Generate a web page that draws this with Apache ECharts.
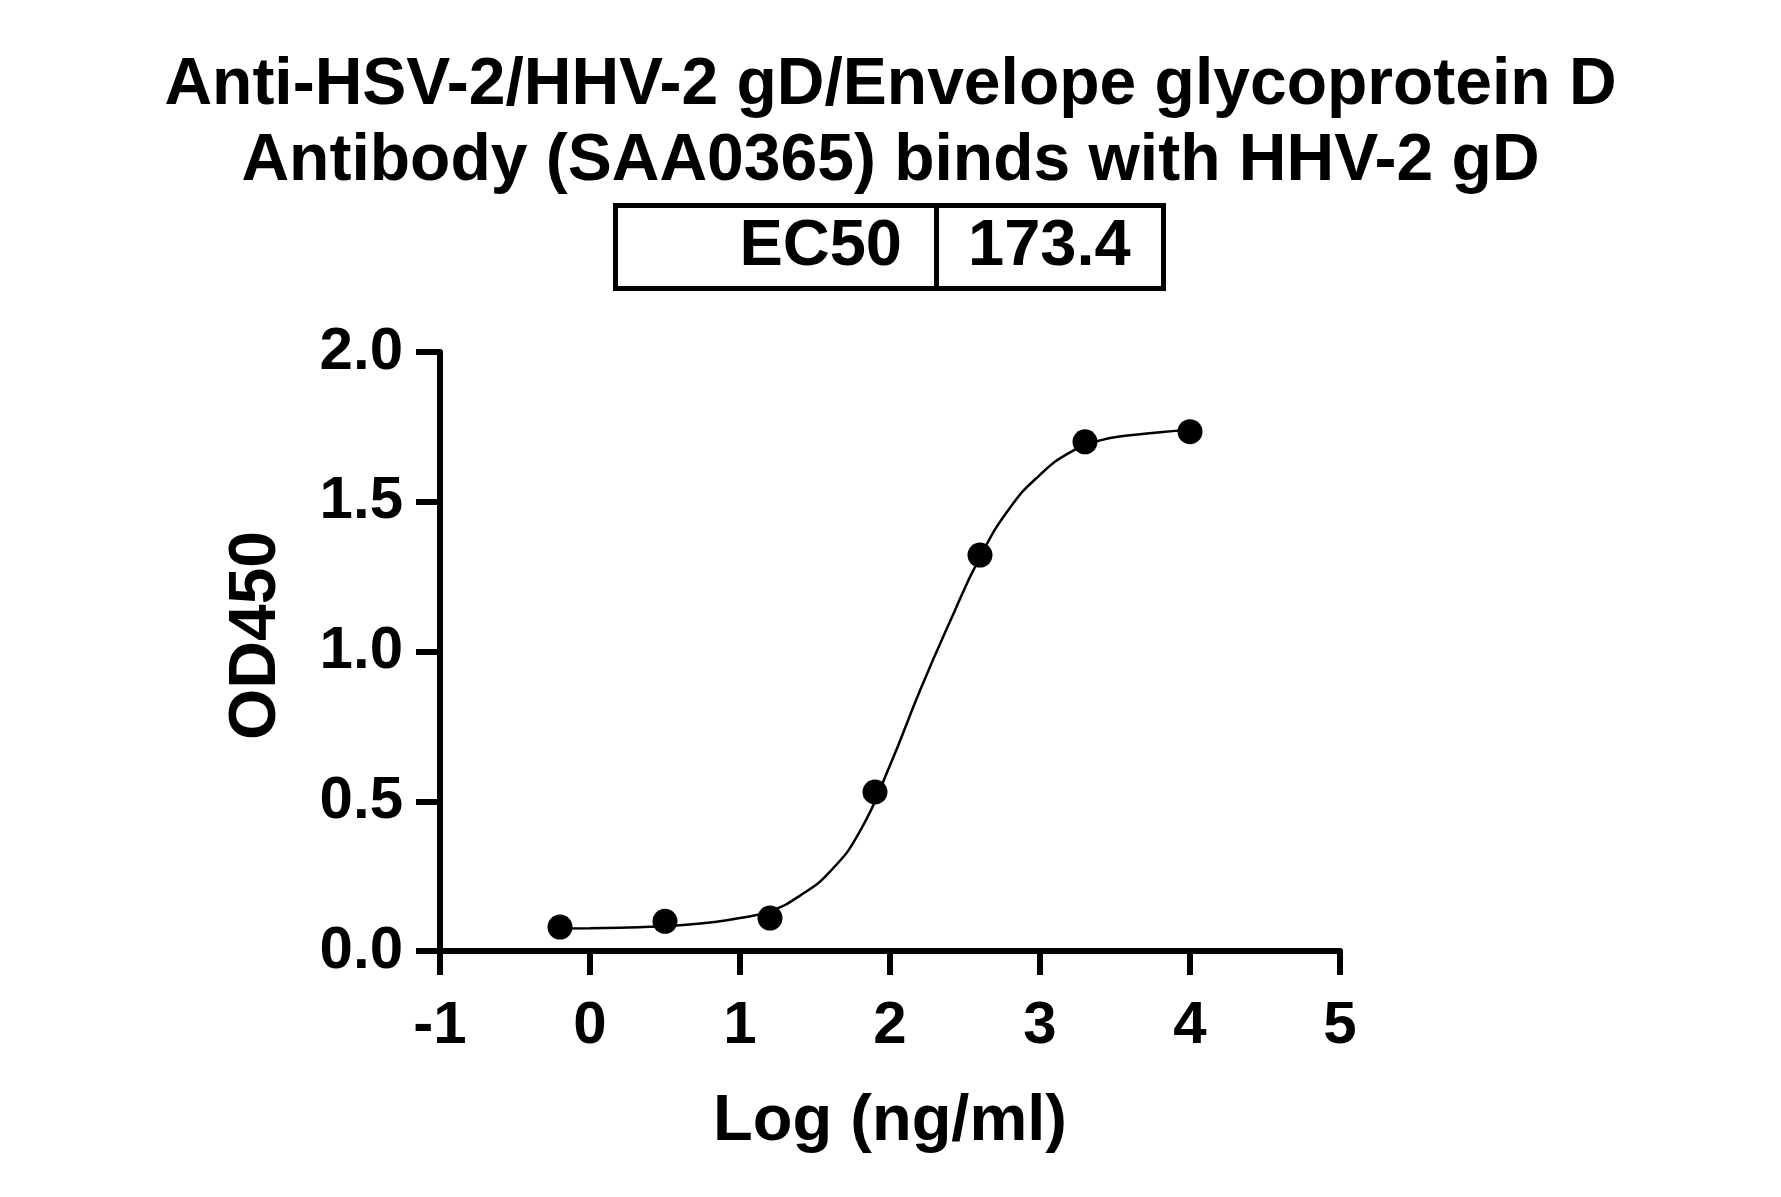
<!DOCTYPE html>
<html>
<head>
<meta charset="utf-8">
<script src="https://cdn.jsdelivr.net/npm/echarts@6/dist/echarts.min.js"></script>
<style>
html,body{margin:0;padding:0;background:#fff;}
#chart{width:1781px;height:1197px;}
</style>
</head>
<body>
<div id="chart"></div>
<script>
// Data
var titleLines = ['Anti-HSV-2/HHV-2 gD/Envelope glycoprotein D', 'Antibody (SAA0365) binds with HHV-2 gD'];
var ec50Label = 'EC50';
var ec50Value = '173.4';
var xAxisName = 'Log (ng/ml)';
var yAxisName = 'OD450';
var xTicks = [-1, 0, 1, 2, 3, 4, 5];
var yTicks = [0.0, 0.5, 1.0, 1.5, 2.0];

// Measured points
var pointX = [-0.2, 0.5, 1.2, 1.9, 2.6, 3.3, 4.0];
var pointY = [0.080, 0.099, 0.110, 0.531, 1.322, 1.700, 1.734];

// Fitted curve
var curveX = [-0.2, 0.0, 0.2, 0.4, 0.6, 0.8, 1.0, 1.2, 1.4, 1.6, 1.8, 2.0, 2.2, 2.4, 2.6, 2.8, 3.0, 3.2, 3.4, 3.6, 3.8, 4.0];
var curveY = [0.075, 0.076, 0.078, 0.081, 0.086, 0.095, 0.110, 0.133, 0.185, 0.265, 0.400, 0.620, 0.870, 1.100, 1.315, 1.480, 1.590, 1.665, 1.705, 1.722, 1.732, 1.740];

var FONT = '"Liberation Sans", Arial, sans-serif';
var chart = echarts.init(document.getElementById('chart'), null, {renderer: 'canvas'});

var curveData = curveX.map(function (x, i) { return [x, curveY[i]]; });
var pointData = pointX.map(function (x, i) { return [x, pointY[i]]; });

var option = {
  backgroundColor: '#ffffff',
  animation: false,
  title: {
    text: titleLines.join('\n'),
    left: 'center',
    top: 43,
    textStyle: {
      fontFamily: FONT, fontSize: 66, fontWeight: 'bold', color: '#000', lineHeight: 76
    }
  },
  grid: {
    left: 440, right: 441, top: 352, bottom: 246,
    containLabel: false,
    outerBoundsMode: 'none'
  },
  xAxis: {
    type: 'value',
    min: xTicks[0], max: xTicks[xTicks.length - 1], interval: 1,
    name: xAxisName,
    nameLocation: 'middle',
    nameGap: 139,
    nameTextStyle: {fontFamily: FONT, fontSize: 65, fontWeight: 'bold', color: '#000'},
    axisLine: {show: true, onZero: false, lineStyle: {color: '#000', width: 6}},
    axisTick: {show: true, inside: false, length: 24, lineStyle: {color: '#000', width: 6}},
    axisLabel: {
      margin: 45, fontFamily: FONT, fontSize: 60, fontWeight: 'bold', color: '#000',
      formatter: function (v) { return String(v); }
    },
    splitLine: {show: false}
  },
  yAxis: {
    type: 'value',
    min: yTicks[0], max: yTicks[yTicks.length - 1], interval: 0.5,
    name: yAxisName,
    nameLocation: 'middle',
    nameGap: 150,
    nameRotate: 90,
    nameTextStyle: {fontFamily: FONT, fontSize: 66, fontWeight: 'bold', color: '#000', padding: [0, 0, 0, 32]},
    axisLine: {show: true, onZero: false, lineStyle: {color: '#000', width: 6}},
    axisTick: {show: true, inside: false, length: 24, lineStyle: {color: '#000', width: 6}},
    axisLabel: {
      margin: 37, fontFamily: FONT, fontSize: 60, fontWeight: 'bold', color: '#000',
      formatter: function (v) { return v.toFixed(1); }
    },
    splitLine: {show: false}
  },
  series: [
    {
      type: 'line',
      data: curveData,
      smooth: 0.5,
      symbol: 'none',
      lineStyle: {color: '#000', width: 2.5},
      z: 2
    },
    {
      type: 'scatter',
      data: pointData,
      symbol: 'circle',
      symbolSize: 25,
      itemStyle: {color: '#000', opacity: 1},
      z: 3
    }
  ],
  graphic: [
    {
      type: 'rect',
      shape: {x: 615.5, y: 205.5, width: 548, height: 83},
      style: {fill: 'none', stroke: '#000', lineWidth: 5}
    },
    {
      type: 'line',
      shape: {x1: 936.5, y1: 205.5, x2: 936.5, y2: 288.5},
      style: {stroke: '#000', lineWidth: 5}
    },
    {
      type: 'text',
      x: 902, y: 247,
      style: {
        text: ec50Label, fill: '#000', font: 'bold 65px ' + FONT,
        align: 'right', verticalAlign: 'middle'
      }
    },
    {
      type: 'text',
      x: 968, y: 247,
      style: {
        text: ec50Value, fill: '#000', font: 'bold 65px ' + FONT,
        align: 'left', verticalAlign: 'middle'
      }
    }
  ]
};
chart.setOption(option);
</script>
</body>
</html>
